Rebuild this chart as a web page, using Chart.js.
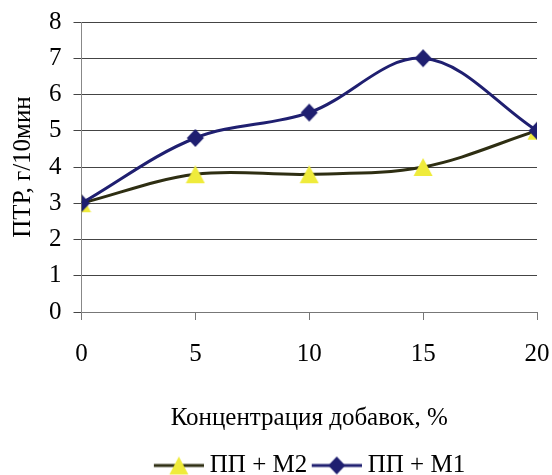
<!DOCTYPE html>
<html>
<head>
<meta charset="utf-8">
<script src="https://cdn.jsdelivr.net/npm/chart.js@4/dist/chart.umd.min.js"></script>
<style>
  html, body { margin: 0; padding: 0; background: #fff; }
  #wrap { width: 552px; height: 475px; }
</style>
</head>
<body>
<div id="wrap"><canvas id="myChart" width="552" height="475"></canvas></div>
<script>
// data
const concentration = [0, 5, 10, 15, 20];
const ppM2 = [3, 3.8, 3.8, 4, 5];
const ppM1 = [3, 4.8, 5.5, 7, 5];
const seriesLabels = ["ПП + М2", "ПП + М1"];
const xTitle = "Концентрация добавок, %";
const yTitle = "ПТР, г/10мин";

const NAVY = "#1f1f70";
const OLIVE = "#2e2e12";
const YELLOW = "#efeb3b";
const FONT = "'Liberation Serif', 'Times New Roman', serif";
const FS = 25;

// marker shapes drawn into small canvases so they sit centred on the point
function drawMarker(ctx, kind, cx, cy, color) {
  ctx.fillStyle = color;
  ctx.beginPath();
  if (kind === "triangle") {
    ctx.moveTo(cx, cy - 9);
    ctx.lineTo(cx + 9.5, cy + 9);
    ctx.lineTo(cx - 9.5, cy + 9);
  } else {
    ctx.moveTo(cx, cy - 9);
    ctx.lineTo(cx + 8.5, cy);
    ctx.lineTo(cx, cy + 9);
    ctx.lineTo(cx - 8.5, cy);
  }
  ctx.closePath();
  ctx.fill();
}

function makeMarker(kind, color) {
  const c = document.createElement("canvas");
  c.width = 20;
  c.height = 20;
  drawMarker(c.getContext("2d"), kind, 10, 10, color);
  return c;
}

// legend sample: a 50px line with the marker in the middle,
// image is a bit wider than the legend box so the text sits close to the line
function makeLegendIcon(kind, lineColor, markerColor) {
  const c = document.createElement("canvas");
  c.width = 57;
  c.height = 20;
  const ctx = c.getContext("2d");
  ctx.strokeStyle = lineColor;
  ctx.lineWidth = 3;
  ctx.beginPath();
  ctx.moveTo(7, 10);
  ctx.lineTo(57, 10);
  ctx.stroke();
  drawMarker(ctx, kind, 32, 10, markerColor);
  return c;
}

const triMarker = makeMarker("triangle", YELLOW);
const diaMarker = makeMarker("diamond", NAVY);
const legendIcons = [
  makeLegendIcon("triangle", OLIVE, YELLOW),
  makeLegendIcon("diamond", NAVY, NAVY),
];

const toPoints = (ys) => concentration.map((x, i) => ({ x, y: ys[i] }));

new Chart(document.getElementById("myChart"), {
  type: "line",
  data: {
    datasets: [
      {
        label: seriesLabels[0],
        data: toPoints(ppM2),
        borderColor: OLIVE,
        backgroundColor: YELLOW,
        borderWidth: 3,
        pointStyle: triMarker,
        pointRadius: 9,
        tension: 0.35,
        order: 1,
      },
      {
        label: seriesLabels[1],
        data: toPoints(ppM1),
        borderColor: NAVY,
        backgroundColor: NAVY,
        borderWidth: 3,
        pointStyle: diaMarker,
        pointRadius: 9,
        tension: 0.35,
        order: 0,
      },
    ],
  },
  options: {
    responsive: false,
    animation: false,
    layout: {
      padding: { left: 0, right: 0, top: 0, bottom: -13 },
    },
    plugins: {
      tooltip: { enabled: false },
      legend: {
        display: true,
        position: "bottom",
        fullSize: false,
        labels: {
          usePointStyle: true,
          pointStyleWidth: 44,
          boxHeight: 20,
          padding: 4,
          color: "#000",
          font: { family: FONT, size: FS },
          sort: (a, b) => a.datasetIndex - b.datasetIndex,
          generateLabels: (chart) =>
            chart.data.datasets.map((ds, i) => ({
              text: ds.label,
              datasetIndex: i,
              pointStyle: legendIcons[i],
              fillStyle: "transparent",
              strokeStyle: "transparent",
              lineWidth: 0,
              fontColor: "#000",
            })),
        },
      },
    },
    scales: {
      x: {
        type: "linear",
        min: 0,
        max: 20,
        ticks: {
          stepSize: 5,
          padding: 19,
          color: "#000",
          font: { family: FONT, size: FS },
        },
        grid: {
          drawOnChartArea: false,
          drawTicks: true,
          tickLength: 8,
          color: "#777",
        },
        border: { display: true, color: "#777" },
        title: {
          display: true,
          text: xTitle,
          color: "#000",
          font: { family: FONT, size: FS },
          padding: { top: 15, bottom: 16 },
        },
        afterFit: (scale) => {
          scale.paddingRight = 15;
        },
      },
      y: {
        min: 0,
        max: 8,
        ticks: {
          stepSize: 1,
          autoSkip: false,
          padding: 12,
          color: "#000",
          font: { family: FONT, size: FS },
        },
        grid: {
          color: "#444",
          lineWidth: 1,
          tickLength: 8,
        },
        border: { display: true, color: "#888" },
        title: {
          display: true,
          text: yTitle,
          color: "#000",
          font: { family: FONT, size: FS },
          padding: { top: 8, bottom: -1 },
        },
        afterFit: (scale) => {
          scale.paddingTop = 22;
        },
      },
    },
  },
});
</script>
</body>
</html>
